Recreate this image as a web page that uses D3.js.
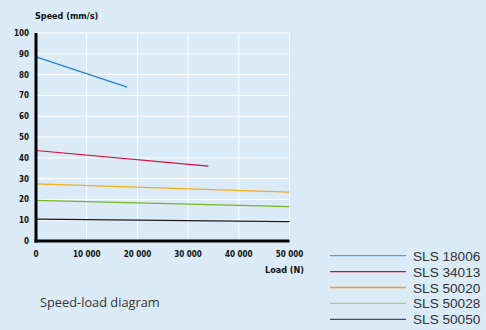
<!DOCTYPE html>
<html><head><meta charset="utf-8">
<script src="https://cdn.jsdelivr.net/npm/d3@7"></script>
<style>html,body{margin:0;padding:0;background:#dbeaf7;}svg{display:block;}</style>
</head><body>
<svg id="c" width="486" height="330"></svg>
<script>
const seriesNames = ["SLS 18006","SLS 34013","SLS 50020","SLS 50028","SLS 50050"];
const seriesLoads = [[0,18000],[0,34000],[0,50000],[0,50000],[0,50000]];
const seriesSpeeds = [[88.5,74],[43.5,36],[27.5,23.5],[19.5,16.5],[10.5,9.3]];
const lineColors = ["#1f7fd1","#d90a3c","#f4ae14","#79b522","#1a1a1a"];
const legendColors = ["#4b9ee2","#e0062d","#f39a2a","#a8d07c","#4a4d55"];
const xTicks = [0,10000,20000,30000,40000,50000];
const yTicks = [0,10,20,30,40,50,60,70,80,90,100];

const svg = d3.select("#c");
const x = d3.scaleLinear().domain([0,50000]).range([36,289.5]);
const y = d3.scaleLinear().domain([0,100]).range([241,33]);
const fmt = v => v===0 ? "0" : d3.format(",")(v).replace(/,/g," ");

// grid
svg.append("g").selectAll("line").data(yTicks.filter(d=>d>0)).join("line")
  .attr("x1",x(0)).attr("x2",x(50000)).attr("y1",d=>y(d)).attr("y2",d=>y(d))
  .attr("stroke","#ffffff").attr("stroke-width",1);
svg.append("g").selectAll("line").data(xTicks.filter(d=>d>0)).join("line")
  .attr("y1",y(0)).attr("y2",y(100)).attr("x1",d=>x(d)).attr("x2",d=>x(d))
  .attr("stroke","#ffffff").attr("stroke-width",1);

// series
const line = d3.line().x(d=>x(d[0])).y(d=>y(d[1]));
seriesNames.forEach((n,i)=>{
  const pts = seriesLoads[i].map((l,j)=>[l,seriesSpeeds[i][j]]);
  svg.append("path").attr("d",line(pts)).attr("fill","none")
    .attr("stroke",lineColors[i]).attr("stroke-width",1.2);
});

// axes lines
svg.append("line").attr("x1",x(0)).attr("x2",x(0)).attr("y1",y(100)).attr("y2",y(0)+1.5)
  .attr("stroke","#000").attr("stroke-width",3);
svg.append("line").attr("x1",x(0)-1.5).attr("x2",x(50000)).attr("y1",y(0)).attr("y2",y(0))
  .attr("stroke","#000").attr("stroke-width",3);

const font = "'DejaVu Sans Condensed', 'DejaVu Sans', sans-serif";
// y tick labels
svg.append("g").selectAll("text").data(yTicks).join("text")
  .attr("x",29).attr("y",d=>y(d)+3).attr("text-anchor","end")
  .attr("font-family",font).attr("font-weight","bold").attr("font-size",8).attr("fill","#111")
  .text(d=>d);
// x tick labels
svg.append("g").selectAll("text").data(xTicks).join("text")
  .attr("x",d=>x(d)).attr("y",257).attr("text-anchor","middle")
  .attr("font-family",font).attr("font-weight","bold").attr("font-size",8).attr("fill","#111")
  .text(fmt);

svg.append("text").attr("x",35).attr("y",19).attr("font-family",font).attr("font-weight","bold")
  .attr("font-size",9).attr("fill","#111").text("Speed (mm/s)");
svg.append("text").attr("x",304).attr("y",273).attr("text-anchor","end").attr("font-family",font).attr("font-weight","bold")
  .attr("font-size",9).attr("fill","#111").text("Load (N)");

// legend
const lg = svg.append("g");
seriesNames.forEach((n,i)=>{
  const yy = 255.7 + i*15.9;
  lg.append("line").attr("x1",330).attr("x2",406).attr("y1",yy).attr("y2",yy)
    .attr("stroke",legendColors[i]).attr("stroke-width",1.3);
  lg.append("text").attr("x",413).attr("y",yy+5).attr("font-family","'Liberation Sans', Arial, sans-serif")
    .attr("font-size",13.6).attr("fill","#333").text(n);
});

svg.append("text").attr("x",40).attr("y",307).attr("font-family","'Open Sans', sans-serif")
  .attr("font-size",12.8).attr("fill","#333").text("Speed-load diagram");
</script>
</body></html>
